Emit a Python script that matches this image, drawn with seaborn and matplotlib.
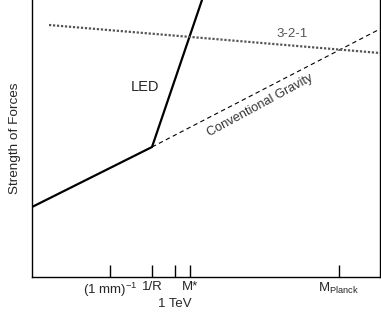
import matplotlib
matplotlib.use('agg')
import matplotlib.pyplot as plt
import seaborn as sns

# schematic curves, in arbitrary log-energy / strength units
led_x = [32, 152, 202]
led_y = [70, 130, 277]
grav_x = [152, 380]
grav_y = [130, 248]
gut_x = [49, 380]
gut_y = [252, 224]

tick_pos = [110, 152, 175, 190, 339]
tick_labels = [r"(1 mm)$^{-1}$", "1/R", "", "M*", r"M$_{\rm Planck}$"]
tev_label = "1 TeV"

sns.set_style("white")
plt.rcParams['font.family'] = ['Liberation Sans', 'DejaVu Sans']
plt.rcParams['mathtext.fontset'] = 'custom'
plt.rcParams['mathtext.rm'] = 'Liberation Sans'
plt.rcParams['mathtext.it'] = 'Liberation Sans:italic'

fig = plt.figure(figsize=(3.81, 3.21), dpi=100)
ax = fig.add_axes([32 / 381, 44 / 321, 348 / 381, 277 / 321])

sns.lineplot(x=led_x, y=led_y, ax=ax, color='black', linewidth=1.6, sort=False)
sns.lineplot(x=grav_x, y=grav_y, ax=ax, color='black', linewidth=0.8, linestyle=(0, (4, 3)))
sns.lineplot(x=gut_x, y=gut_y, ax=ax, color='#555555', linewidth=1.6, linestyle=(0, (1, 0.8)))

ax.set_xlim(32, 380)
ax.set_ylim(0, 277)

ax.text(145, 190, "LED", fontsize=10.5, ha='center', va='center')
ax.text(292, 243, "3-2-1", fontsize=9.5, color='#555555', ha='center', va='center')
ax.text(260, 172, "Conventional Gravity", fontsize=9.2, color='#333333',
        ha='center', va='center', rotation=28.5, rotation_mode='anchor')

ax.set_xticks(tick_pos)
ax.set_xticklabels(tick_labels, fontsize=9.5)
ax.set_yticks([])
ax.tick_params(axis='x', direction='in', length=9, width=1, pad=3, bottom=True, color='black')
ax.text(175, -27, tev_label, fontsize=9.5, ha='center', va='center', clip_on=False)
ax.set_ylabel("Strength of Forces", fontsize=9.7, labelpad=8)

for side in ['left', 'bottom', 'right']:
    ax.spines[side].set_visible(True)
    ax.spines[side].set_color('black')
    ax.spines[side].set_linewidth(1)
ax.spines['top'].set_visible(False)

fig.savefig("out.png", dpi=100)
